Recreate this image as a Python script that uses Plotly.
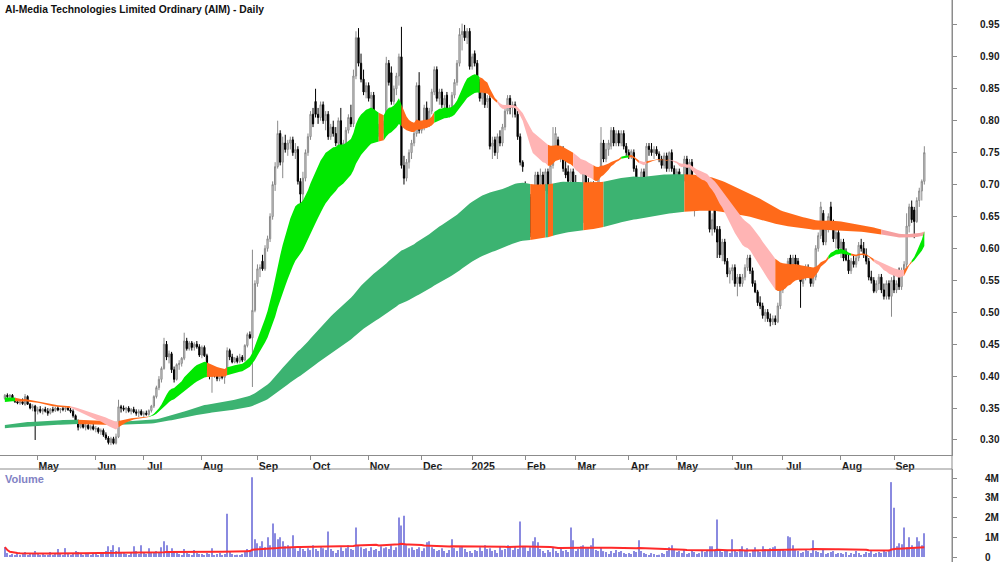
import numpy as np
import pandas as pd
import plotly.graph_objects as go

# ---------------- trading calendar (ASX) ----------------
asx_holidays = ["2024-04-25", "2024-06-10", "2024-12-25", "2024-12-26", "2025-01-01",
                "2025-01-27", "2025-04-18", "2025-04-21", "2025-04-25", "2025-06-09"]
days = pd.bdate_range("2024-04-11", "2025-09-17")
days = days[~days.isin(pd.to_datetime(asx_holidays))]

# ---------------- daily prices (cents): open, high, low, close ----------------
ohlc_2024_04 = [(36.5,37.2,36.3,37.0),(37.0,37.3,36.5,36.8),(36.8,37.2,36.5,37.0),(37.0,37.2,36.2,36.4),(36.4,36.6,35.8,36.0),(36.0,36.4,35.6,35.8),(35.8,36.3,35.5,36.0),(36.0,36.5,35.5,35.7),(35.5,37.2,35.4,36.8),(36.8,37.0,35.5,35.6),(35.6,35.8,34.8,35.0),(35.0,35.6,34.5,35.3),(35.3,35.5,30.0,34.5)]
ohlc_2024_05 = [(34.5,35.2,34.0,34.8),(34.8,35.3,34.2,34.5),(34.5,35.0,34.0,34.8),(34.8,35.2,34.3,34.5),(34.5,35.0,33.8,34.2),(34.2,35.0,34.0,34.8),(34.8,35.2,34.3,34.6),(34.6,35.2,34.4,35.0),(35.0,35.3,34.5,34.7),(34.7,35.0,34.2,34.9),(34.9,35.3,34.5,34.8),(34.8,35.1,34.4,35.0),(35.0,35.3,34.6,34.7),(34.7,35.0,34.2,34.5),(34.5,34.8,33.5,33.8),(33.8,34.0,32.5,32.8),(32.8,33.2,31.5,32.0),(32.0,32.8,31.8,32.5),(32.5,32.8,31.8,32.0),(32.0,32.6,31.5,32.3),(32.3,32.6,31.6,31.8),(31.8,32.4,31.5,32.1),(32.1,32.5,31.5,31.7)]
ohlc_2024_06 = [(31.7,32.2,31.2,31.8),(31.8,32.0,31.0,31.3),(31.3,31.8,30.8,31.5),(31.5,31.8,30.5,30.8),(30.8,31.2,30.0,30.3),(30.3,30.6,29.3,29.6),(29.6,30.5,29.2,30.2),(30.2,30.5,29.3,29.5),(29.5,31.0,29.3,30.5),(30.5,36.3,30.3,35.2),(35.2,35.5,34.3,35.0),(35.0,35.4,34.5,34.8),(34.8,35.2,34.2,35.0),(35.0,35.3,34.3,34.5),(34.5,35.0,34.0,34.8),(34.8,35.2,34.2,34.4),(34.4,34.8,33.8,34.2),(34.2,34.8,33.6,34.5),(34.5,34.8,33.8,34.0)]
ohlc_2024_07 = [(34.0,34.5,33.6,34.2),(34.2,34.6,33.8,34.0),(34.0,34.8,33.8,34.6),(34.6,35.5,34.3,35.3),(35.3,37.0,35.0,36.8),(36.8,38.5,36.5,38.2),(38.2,40.0,37.8,39.5),(39.5,41.5,39.0,41.2),(41.2,46.0,41.0,45.0),(45.0,45.5,42.5,43.0),(43.0,44.0,42.0,43.5),(43.5,43.8,40.5,41.0),(41.0,41.5,39.0,39.5),(39.5,42.0,39.3,41.8),(41.8,42.5,41.0,42.0),(42.0,43.0,41.5,42.8),(42.8,46.8,42.5,45.5),(45.5,46.0,44.0,44.3),(44.3,45.5,44.0,45.2),(45.2,45.5,44.0,44.5),(44.5,45.3,44.0,45.0),(45.0,45.5,44.3,44.6),(44.6,45.0,43.0,43.3)]
ohlc_2024_08 = [(43.3,44.8,42.8,44.5),(44.5,44.8,43.0,43.2),(43.2,43.5,40.5,41.0),(41.0,41.5,39.5,40.0),(40.0,41.0,37.4,40.5),(40.5,41.2,39.8,40.2),(40.2,40.8,39.2,39.6),(39.6,40.5,39.2,40.2),(40.2,41.0,39.5,39.8),(39.8,40.6,38.8,40.4),(40.4,44.5,40.2,44.0),(44.0,44.3,42.5,43.0),(43.0,43.5,42.0,42.2),(42.2,43.0,42.0,42.8),(42.8,43.2,42.0,42.3),(42.3,43.5,42.0,43.0),(43.0,43.3,42.2,42.5),(42.5,45.0,42.3,44.8),(44.8,46.8,44.5,46.5),(46.5,47.0,45.8,46.0),(46.0,59.8,38.3,50.3),(50.3,55.0,50.0,54.5)]
ohlc_2024_09 = [(54.5,57.5,54.0,56.8),(56.8,57.5,55.5,57.0),(58.0,59.0,56.5,56.8),(56.8,60.5,56.5,60.0),(60.0,62.0,59.5,61.5),(61.5,65.5,61.0,65.0),(65.0,70.5,64.5,70.0),(70.0,73.5,69.0,72.8),(72.8,80.0,72.5,78.0),(78.0,78.5,73.0,73.5),(73.5,77.5,71.0,76.5),(76.5,77.8,75.0,75.5),(75.5,77.0,74.5,76.5),(76.5,77.5,75.5,77.0),(77.0,77.5,74.5,75.0),(75.0,76.5,74.0,75.5),(75.5,76.0,70.0,70.5),(70.5,71.0,65.2,68.5),(68.5,72.0,67.0,71.0),(71.0,75.5,70.5,75.0),(75.0,78.0,74.5,77.5)]
ohlc_2024_10 = [(77.5,81.5,77.0,81.0),(81.0,82.0,79.0,79.5),(83.0,85.0,80.5,81.0),(81.0,82.0,79.5,80.5),(80.5,83.0,80.0,82.5),(82.5,83.0,79.5,80.0),(80.0,81.5,78.5,81.0),(81.0,81.5,77.0,77.5),(77.5,79.5,77.0,79.0),(79.0,80.0,77.5,78.0),(78.0,79.0,76.0,76.5),(76.5,80.5,76.0,80.0),(80.0,82.0,75.2,76.0),(76.0,77.0,75.0,76.5),(76.5,79.0,76.0,78.5),(78.5,81.0,78.0,80.5),(80.5,82.5,79.0,79.5),(79.5,88.0,79.0,87.0),(87.0,94.0,86.5,93.0),(93.0,94.5,88.5,89.0),(89.0,90.5,86.0,86.5),(86.5,88.0,84.0,84.5),(84.5,86.0,83.5,85.5)]
ohlc_2024_11 = [(85.5,86.0,83.0,83.5),(83.5,84.5,82.0,84.0),(84.0,84.5,79.0,79.5),(79.5,80.5,77.5,78.0),(78.0,79.5,77.5,79.0),(79.0,80.5,78.0,78.5),(78.5,80.0,78.0,79.5),(79.5,90.0,79.0,89.0),(89.0,89.5,85.5,86.0),(87.5,88.5,82.5,83.0),(83.0,85.5,82.5,85.0),(85.0,87.5,84.0,87.0),(87.0,90.5,85.5,90.0),(90.0,94.7,72.5,73.0),(73.0,74.5,70.0,71.0),(71.0,74.0,70.5,73.5),(73.5,75.5,72.5,75.0),(75.0,77.0,74.0,76.5),(76.5,78.5,76.0,78.0),(78.0,86.0,77.5,85.5),(85.5,87.6,78.0,78.5)]
ohlc_2024_12 = [(78.5,80.0,78.0,79.5),(79.5,82.5,78.5,82.0),(82.0,83.0,79.5,80.0),(80.0,82.0,79.0,81.5),(81.5,85.0,81.0,84.5),(84.5,88.5,84.0,88.0),(88.0,88.5,83.0,83.5),(83.5,85.0,82.5,84.5),(84.5,85.0,82.0,82.5),(82.5,84.0,81.5,83.5),(84.0,84.5,81.0,81.5),(81.5,82.5,80.5,82.0),(82.0,84.5,81.5,84.0),(84.0,86.5,83.5,86.0),(86.0,89.5,85.5,89.0),(89.0,94.5,88.5,93.5),(93.5,95.2,91.0,94.0),(94.0,95.0,92.5,93.0),(93.0,94.5,92.0,94.0),(94.0,94.5,88.0,88.5)]
ohlc_2025_01 = [(88.5,90.5,88.0,90.0),(90.5,91.0,88.5,89.0),(89.0,89.5,85.5,86.0),(86.0,86.5,83.0,83.5),(83.5,85.5,82.5,85.0),(85.0,85.5,82.0,82.5),(83.0,84.0,82.0,83.5),(83.5,84.0,75.5,76.0),(76.0,77.5,74.0,76.5),(77.0,77.5,74.5,75.0),(75.0,78.0,74.0,77.5),(77.5,78.5,76.0,76.5),(76.5,79.5,76.0,79.0),(79.0,82.0,78.5,81.5),(81.5,84.0,81.0,83.5),(83.5,84.0,81.0,82.0),(82.0,83.0,80.5,82.5),(82.5,83.0,80.5,81.0),(81.0,81.5,77.0,77.5),(77.5,78.0,73.0,73.5),(73.5,73.8,72.0,72.8)]
ohlc_2025_02 = [(70.0,70.5,64.5,65.0),(65.0,68.0,64.0,67.5),(68.0,68.5,61.8,62.5),(62.5,64.5,61.5,64.0),(64.0,72.0,63.5,71.5),(71.5,72.0,69.0,69.5),(70.0,72.5,68.5,71.5),(71.5,72.0,69.5,70.0),(70.0,72.5,69.0,72.0),(72.0,72.5,68.5,69.0),(69.0,73.5,68.0,73.0),(73.0,79.0,72.5,76.0),(76.0,79.0,75.5,78.0),(77.0,77.5,74.5,75.0),(75.0,76.0,73.5,75.5),(75.5,76.0,72.0,72.5),(72.5,74.0,71.0,71.5),(72.0,73.0,70.0,70.5),(70.5,72.5,69.5,72.0),(72.0,72.5,69.0,69.5)]
ohlc_2025_03 = [(70.0,71.5,66.5,67.0),(67.0,70.0,66.0,69.5),(69.5,70.0,67.0,67.5),(67.5,73.5,64.0,72.0),(72.0,73.0,69.5,70.0),(70.0,71.0,67.5,68.0),(68.0,70.5,66.5,70.0),(70.0,70.5,67.5,68.0),(68.0,69.0,67.0,68.5),(68.5,72.5,68.0,72.0),(72.0,79.0,71.5,76.5),(76.5,77.0,73.5,74.0),(74.0,76.5,73.5,75.5),(75.5,77.0,74.5,76.5),(76.0,79.0,75.5,78.5),(78.5,79.0,76.0,76.5),(76.5,78.5,76.0,78.0),(78.0,78.5,76.0,76.5),(76.5,78.5,76.0,78.0),(78.0,78.5,75.5,76.0),(76.0,76.5,74.5,75.0)]
ohlc_2025_04 = [(75.0,75.5,74.0,74.5),(74.5,75.5,74.0,75.2),(75.0,75.5,72.0,72.5),(72.5,73.0,69.0,69.5),(69.5,71.0,65.2,68.0),(68.0,72.5,67.5,72.0),(72.0,72.5,70.5,71.0),(71.0,76.5,70.5,76.0),(76.0,76.5,74.5,75.5),(75.5,76.5,74.5,75.0),(75.0,76.0,74.0,75.5),(75.5,76.0,74.5,74.8),(74.8,75.2,73.5,74.0),(74.0,74.5,72.5,73.0),(73.0,75.0,72.5,74.5),(74.5,75.0,72.0,72.5),(72.5,75.2,72.0,75.0),(75.0,75.5,72.0,72.5),(72.5,73.0,70.5,71.0)]
ohlc_2025_05 = [(71.0,72.5,70.0,72.0),(72.0,72.5,68.0,68.5),(68.5,71.5,67.5,71.0),(71.0,74.5,70.5,74.0),(74.0,74.5,70.0,70.5),(70.5,74.0,70.0,73.5),(73.5,74.0,66.5,67.0),(67.0,69.0,65.0,68.5),(69.0,70.0,66.0,66.5),(66.5,69.5,66.0,69.0),(69.0,70.0,67.0,67.5),(67.5,70.0,67.0,69.5),(69.5,70.0,67.0,67.5),(67.5,68.0,62.5,63.0),(63.0,65.5,62.0,64.5),(66.5,67.0,62.5,63.0),(63.0,63.5,58.5,61.0),(63.0,63.5,58.5,59.0),(59.0,61.5,58.0,61.0),(61.0,61.5,57.5,58.0),(58.0,58.5,55.5,56.0),(56.0,57.0,54.5,56.5)]
ohlc_2025_06 = [(56.5,57.5,55.0,57.0),(57.0,57.5,54.0,54.5),(54.5,56.0,52.5,55.5),(55.5,56.0,54.0,54.5),(54.5,56.0,54.0,55.5),(55.5,57.5,55.0,57.0),(57.0,59.0,56.5,58.5),(58.5,59.0,56.0,56.5),(56.5,57.0,54.0,54.5),(54.5,55.0,53.0,53.2),(53.2,53.5,51.0,51.5),(51.5,52.5,50.5,51.0),(51.0,51.5,49.0,49.5),(49.5,50.5,48.5,50.0),(50.0,50.5,48.5,49.0),(49.0,49.8,47.8,48.5),(48.5,49.5,48.0,49.0),(49.0,49.5,48.0,48.5),(48.5,51.5,48.3,51.0),(51.0,54.0,50.5,53.5)]
ohlc_2025_07 = [(53.5,55.5,53.0,55.0),(55.0,56.5,54.0,56.0),(56.0,58.5,55.5,58.0),(58.5,59.0,55.5,56.0),(56.0,59.0,55.5,58.5),(58.5,59.0,57.0,57.5),(58.0,58.5,55.5,56.0),(56.0,56.5,50.7,54.8),(54.5,56.5,54.0,56.0),(56.0,57.5,55.0,57.0),(57.0,57.5,55.5,55.8),(56.0,56.5,54.0,54.5),(54.5,56.0,54.0,55.5),(55.5,60.5,55.0,60.0),(60.0,62.5,59.5,62.0),(62.0,67.3,61.5,66.5),(65.5,66.0,60.5,61.0),(61.0,63.5,60.5,63.0),(63.0,65.5,62.5,65.0),(66.5,67.3,63.5,64.0),(64.0,64.5,61.0,61.5),(61.5,63.0,60.0,62.5),(62.5,64.0,59.5,60.0)]
ohlc_2025_08 = [(60.0,61.5,58.5,61.0),(61.0,61.5,58.0,58.5),(59.5,60.0,58.0,58.2),(58.2,59.0,56.0,56.5),(56.5,58.5,56.0,58.0),(58.0,59.0,57.0,57.5),(57.5,59.0,57.0,58.5),(58.5,61.0,58.0,60.5),(60.5,61.5,59.5,60.0),(60.0,61.0,58.5,59.0),(59.0,60.0,57.5,58.0),(58.0,58.5,55.0,55.5),(55.5,56.5,54.5,55.0),(55.0,55.5,53.0,53.3),(53.3,55.0,53.0,54.5),(54.5,56.0,53.5,55.5),(55.5,56.0,53.0,53.5),(53.5,54.5,52.0,52.5),(52.5,55.0,52.0,54.5),(54.5,55.0,52.0,52.5),(52.5,55.5,49.3,55.0)]
ohlc_2025_09 = [(55.0,56.0,53.0,53.5),(53.5,55.0,53.0,54.5),(56.5,57.0,53.5,54.0),(54.0,57.0,53.5,56.5),(56.5,58.0,56.0,57.5),(57.5,65.5,57.0,63.5),(63.5,67.0,62.5,66.5),(66.5,67.5,64.0,64.5),(66.0,66.5,61.6,64.2),(64.2,68.0,64.0,67.5),(67.5,69.5,66.5,69.0),(69.0,70.8,67.5,70.5),(70.5,76.0,70.0,75.0)]

# ---------------- daily volume (millions of shares) ----------------
vol_2024_04 = [0.5,0.2,0.1,0.15,0.1,0.2,0.1,0.15,0.25,0.1,0.15,0.2,0.3]
vol_2024_05 = [0.15,0.1,0.2,0.1,0.12,0.25,0.1,0.2,0.4,0.15,0.1,0.45,0.2,0.1,0.15,0.3,0.25,0.2,0.1,0.15,0.2,0.1,0.15]
vol_2024_06 = [0.2,0.1,0.15,0.25,0.3,0.55,0.35,0.6,0.3,0.5,0.2,0.25,0.15,0.1,0.2,0.55,0.3,0.15,0.6]
vol_2024_07 = [0.2,0.15,0.45,0.25,0.2,0.3,0.25,0.5,0.8,0.6,0.3,0.45,0.25,0.2,0.15,0.1,0.4,0.2,0.15,0.1,0.35,0.2,0.15]
vol_2024_08 = [0.15,0.1,0.2,0.15,0.45,0.1,0.15,0.2,0.1,0.15,2.2,0.3,0.15,0.1,0.12,0.1,0.15,0.25,0.4,0.3,4.05,0.9]
vol_2024_09 = [0.7,0.55,0.8,0.5,1.0,0.6,1.7,1.2,0.9,1.0,0.8,0.55,0.6,0.5,1.1,0.45,0.3,0.5,0.4,0.3,0.45]
vol_2024_10 = [0.35,0.6,0.4,0.3,0.5,0.45,0.35,1.3,0.4,0.3,0.2,0.35,0.5,0.3,0.45,0.6,0.4,0.35,1.5,0.6,0.5,0.4,0.45]
vol_2024_11 = [0.3,0.5,0.35,0.4,0.3,0.55,0.45,0.5,0.4,0.6,0.35,0.5,2.0,1.6,2.1,0.6,0.45,0.5,0.35,0.4,0.5]
vol_2024_12 = [0.3,0.45,0.75,0.8,0.5,0.4,0.3,0.35,0.45,0.3,0.2,0.35,0.9,0.45,0.3,0.5,0.55,0.4,0.25,0.3]
vol_2025_01 = [0.2,0.35,0.3,0.5,0.3,0.6,0.4,0.45,0.3,0.35,0.2,0.55,0.35,0.4,0.6,0.5,0.35,0.55,0.4,1.8,0.55]
vol_2025_02 = [0.55,0.3,0.5,0.8,1.0,0.75,0.4,0.3,0.2,0.35,0.25,0.5,0.3,0.2,0.4,0.3,0.35,0.25,1.5,0.85]
vol_2025_03 = [0.3,0.4,0.55,0.6,0.45,0.5,0.6,0.95,0.35,0.3,0.5,0.3,0.25,0.15,0.3,0.2,0.35,0.25,0.3,0.2,0.15]
vol_2025_04 = [0.2,0.15,0.3,0.25,0.85,0.3,0.2,0.15,0.1,0.2,0.15,0.1,0.12,0.2,0.15,0.3,0.5,0.6,0.4]
vol_2025_05 = [0.25,0.3,0.2,0.35,0.15,0.2,0.3,0.25,0.15,0.2,0.3,0.25,0.35,0.55,0.55,0.3,1.9,0.4,0.25,0.35,0.3,0.2]
vol_2025_06 = [0.9,0.3,0.25,0.4,0.55,0.3,0.45,0.2,0.35,0.5,0.3,0.25,0.55,0.4,0.3,0.45,0.5,0.55,0.3,0.35]
vol_2025_07 = [0.4,0.3,1.05,1.0,0.6,0.35,0.3,0.2,0.25,0.4,0.3,0.2,0.85,0.3,0.25,0.2,0.35,0.15,0.2,0.25,0.3,0.15,0.2]
vol_2025_08 = [0.2,0.15,0.25,0.1,0.2,0.15,0.3,0.2,0.1,0.15,0.25,0.2,0.3,0.15,0.2,0.25,0.2,0.3,0.25,0.3,3.8]
vol_2025_09 = [2.5,0.55,0.7,0.65,1.5,0.5,1.0,0.6,0.45,1.0,0.8,0.6,1.2]

# ---------------- moving-average ribbon settings ----------------
short_periods = [20, 24, 28, 32, 36, 40]
long_periods = [150, 170, 190, 210, 230, 250]
short_seed = [0.366, 0.365, 0.364, 0.362, 0.361, 0.359]   # values before first bar
long_seed = [0.323, 0.322, 0.321, 0.320, 0.319, 0.318]
volume_ma_period = 60

# trend state of each ribbon (state starts on date)
short_state_dates = ["2024-04-11", "2024-04-17", "2024-05-20", "2024-06-17", "2024-07-03", "2024-08-05",
                     "2024-08-15", "2024-11-07", "2024-11-11", "2024-11-20", "2024-12-09", "2025-01-07",
                     "2025-01-16", "2025-02-14", "2025-02-28", "2025-03-12", "2025-03-27", "2025-04-01",
                     "2025-04-07", "2025-04-10", "2025-04-28", "2025-06-26", "2025-07-25", "2025-08-07",
                     "2025-08-20", "2025-09-05", "2025-09-10"]
short_states = ["bull", "mixed", "bear", "mixed", "bull", "mixed", "bull", "mixed", "bull", "mixed", "bull",
                "mixed", "bear", "mixed", "bear", "mixed", "bull", "mixed", "bear", "mixed", "bear", "mixed",
                "bull", "mixed", "bear", "mixed", "bull"]
long_state_dates = ["2024-04-11", "2024-05-23", "2024-06-13", "2025-02-05", "2025-02-13", "2025-02-14",
                    "2025-02-18", "2025-03-06", "2025-03-18", "2025-05-06", "2025-08-25"]
long_states = ["bull", "mixed", "bull", "mixed", "bull", "mixed", "bull", "mixed", "bull", "mixed", "bear"]

month_names = ["Jan", "Feb", "Mar", "Apr", "May", "Jun", "Jul", "Aug", "Sep", "Oct", "Nov", "Dec"]

# ---------------- assemble ----------------
ohlc = np.array(sum([ohlc_2024_04, ohlc_2024_05, ohlc_2024_06, ohlc_2024_07, ohlc_2024_08, ohlc_2024_09,
                     ohlc_2024_10, ohlc_2024_11, ohlc_2024_12, ohlc_2025_01, ohlc_2025_02, ohlc_2025_03,
                     ohlc_2025_04, ohlc_2025_05, ohlc_2025_06, ohlc_2025_07, ohlc_2025_08, ohlc_2025_09], [])) / 100.0
volume = np.array(sum([vol_2024_04, vol_2024_05, vol_2024_06, vol_2024_07, vol_2024_08, vol_2024_09,
                       vol_2024_10, vol_2024_11, vol_2024_12, vol_2025_01, vol_2025_02, vol_2025_03,
                       vol_2025_04, vol_2025_05, vol_2025_06, vol_2025_07, vol_2025_08, vol_2025_09], []))
n = len(ohlc)
days = days[:n]
xi = np.arange(n)
op, hi, lo, cl = ohlc[:, 0], ohlc[:, 1], ohlc[:, 2], ohlc[:, 3]


def ema(values, period, seed):
    a = 2.0 / (period + 1)
    out, e = [], seed
    for v in values:
        e = e + a * (v - e)
        out.append(e)
    return np.array(out)


short_group = np.array([ema(cl, p, s) for p, s in zip(short_periods, short_seed)])
long_group = np.array([ema(cl, p, s) for p, s in zip(long_periods, long_seed)])
vol_ma = pd.Series(volume).rolling(volume_ma_period, min_periods=1).mean().values


def state_per_bar(dates, states):
    d = pd.to_datetime(dates)
    out = []
    for day in days:
        k = np.searchsorted(d, day, side="right") - 1
        out.append(states[max(k, 0)])
    return out


# ---------------- styles ----------------
C_SHORT = {"bull": "#00E800", "mixed": "#FF6A1A", "bear": "#FFB4B4"}
C_LONG = {"bull": "#3CB371", "mixed": "#FF6A1A", "bear": "#F6A0A0"}
AXIS = "#8C8C8C"
FONT = "Liberation Sans"

fig = go.Figure()


def add_ribbon(group, states, palette):
    up = group.max(axis=0)
    dn = group.min(axis=0)
    i = 0
    while i < n:
        j = i
        while j + 1 < n and states[j + 1] == states[i]:
            j += 1
        e = min(j + 1, n - 1)
        xs = list(xi[i:e + 1]) + list(xi[i:e + 1][::-1])
        ys = list(up[i:e + 1]) + list(dn[i:e + 1][::-1])
        fig.add_trace(go.Scatter(x=xs, y=ys, fill="toself", fillcolor=palette[states[i]],
                                 mode="lines", line=dict(width=0, color=palette[states[i]]),
                                 hoverinfo="skip", showlegend=False, xaxis="x", yaxis="y"))
        i = j + 1


add_ribbon(long_group, state_per_bar(long_state_dates, long_states), C_LONG)
add_ribbon(short_group, state_per_bar(short_state_dates, short_states), C_SHORT)

fig.add_trace(go.Candlestick(
    x=xi, open=op, high=hi, low=lo, close=cl, xaxis="x", yaxis="y",
    increasing=dict(line=dict(color="#8A8A8A", width=1), fillcolor="#E4E4E4"),
    decreasing=dict(line=dict(color="#000000", width=1), fillcolor="#000000"),
    whiskerwidth=0, showlegend=False, hoverinfo="skip"))

fig.add_trace(go.Bar(x=xi, y=volume, xaxis="x2", yaxis="y2", width=0.42,
                     marker=dict(color="#8A8AE0", line=dict(width=0)), showlegend=False, hoverinfo="skip"))
fig.add_trace(go.Scatter(x=xi, y=vol_ma, xaxis="x2", yaxis="y2", mode="lines",
                         line=dict(color="#FF2A2A", width=2), showlegend=False, hoverinfo="skip"))

# month ticks at first trading day of each month
m_idx, m_lbl = [], []
prev = None
for k, d in enumerate(days):
    if prev is not None and d.month != prev.month:
        m_idx.append(k)
        m_lbl.append(str(d.year) if d.month == 1 else month_names[d.month - 1])
    prev = d

W, H, PW = 1000, 562, 952
px_per_bar = 2.526
x0 = 13 - 37.7 / px_per_bar
x1 = x0 + PW / px_per_bar

price_ticks = [0.30, 0.35, 0.40, 0.45, 0.50, 0.55, 0.60, 0.65, 0.70, 0.75, 0.80, 0.85, 0.90, 0.95]
vol_ticks = [0, 1, 2, 3, 4]
vol_text = ["0", "1M", "2M", "3M", "4M"]

tickfont = dict(family=FONT, size=10, color="#1a1a1a", weight="bold")
fig.update_layout(
    width=W, height=H, margin=dict(l=0, r=W - PW, t=0, b=0, autoexpand=False),
    paper_bgcolor="white", plot_bgcolor="white", showlegend=False, hovermode=False,
    xaxis=dict(domain=[0, 1], range=[x0, x1], anchor="y", tickmode="array", tickvals=m_idx, ticktext=m_lbl,
               ticks="outside", ticklen=4, tickcolor=AXIS, tickwidth=1, showline=True, linecolor=AXIS,
               showgrid=False, zeroline=False, rangeslider=dict(visible=False),
               tickfont=dict(family=FONT, size=10.5, color="#1a1a1a", weight="bold"),
               ticklabelshift=11, ticklabelstandoff=-3),
    xaxis2=dict(domain=[0, 1], range=[x0, x1], anchor="y2", matches="x", showticklabels=False,
                showgrid=False, zeroline=False, showline=False, ticks=""),
    yaxis=dict(domain=[1 - 455 / H, 1], range=[0.2765, 0.989], side="right", anchor="x",
               tickmode="array", tickvals=price_ticks, ticktext=[f"{v:.2f}" for v in price_ticks],
               ticks="outside", ticklen=4, tickcolor=AXIS, showline=True, linecolor=AXIS,
               showgrid=False, zeroline=False, tickfont=tickfont, ticklabelstandoff=21),
    yaxis2=dict(domain=[0, 1 - 469 / H], range=[-0.254, 4.467], side="right", anchor="x2",
                tickmode="array", tickvals=vol_ticks, ticktext=vol_text,
                ticks="outside", ticklen=4, tickcolor=AXIS, showline=True, linecolor=AXIS,
                showgrid=False, zeroline=False, tickfont=tickfont, ticklabelstandoff=26,
                ticklabeloverflow="allow"),
    shapes=[
        dict(type="line", xref="paper", yref="paper", x0=1, x1=1, y0=0, y1=1, line=dict(color=AXIS, width=1)),
        dict(type="line", xref="paper", yref="paper", x0=0, x1=1, y0=1 - 469 / H, y1=1 - 469 / H,
             line=dict(color=AXIS, width=1)),
    ],
    annotations=[
        dict(text="AI-Media Technologies Limited Ordinary (AIM) - Daily", xref="paper", yref="paper",
             x=3 / PW, y=1 - 2 / H, xanchor="left", yanchor="top", showarrow=False,
             font=dict(family=FONT, size=10.3, color="#111111", weight="bold")),
        dict(text="Volume", xref="paper", yref="paper", x=3 / PW, y=1 - 471 / H, xanchor="left",
             yanchor="top", showarrow=False, font=dict(family=FONT, size=11, color="#8282C4", weight="bold")),
    ],
)

fig.write_html("out.html")
